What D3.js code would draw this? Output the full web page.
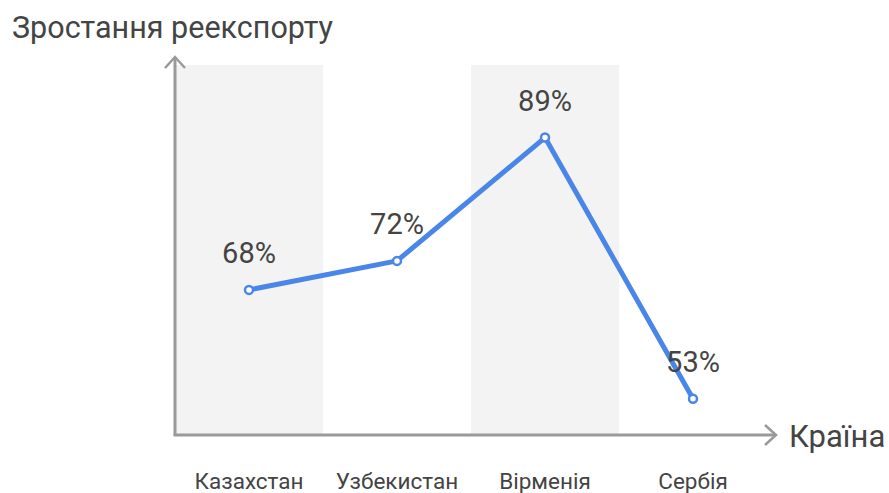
<!DOCTYPE html>
<html>
<head>
  <meta charset="utf-8">
  <title>Зростання реекспорту</title>
  <script src="https://d3js.org/d3.v7.min.js"></script>
  <style>
    body { margin: 0; background: #fff; }
    text { font-family: Roboto, "Noto Sans", sans-serif; }
  </style>
</head>
<body>
  <svg width="889" height="493"></svg>
  <script>
    // data
    var countries = ["Казахстан", "Узбекистан", "Вірменія", "Сербія"];
    var growth = [68, 72, 89, 53];
    var yTitle = "Зростання реекспорту";
    var xTitle = "Країна";

    var svg = d3.select("svg");
    var plotLeft = 175, plotRight = 767, plotTop = 65, plotBottom = 435;

    var x = d3.scaleBand()
      .domain(countries)
      .range([plotLeft, plotRight])
      .padding(0);

    var y = d3.scaleLinear()
      .domain([d3.min(growth) - 5, d3.max(growth) + 10])
      .range([plotBottom, plotTop]);

    var data = countries.map(function(c, i) { return { country: c, value: growth[i] }; });

    // alternating shaded columns
    svg.selectAll("rect.band")
      .data(countries.filter(function(d, i) { return i % 2 === 0; }))
      .enter()
      .append("rect")
      .attr("class", "band")
      .attr("x", function(d) { return x(d); })
      .attr("y", plotTop)
      .attr("width", x.bandwidth())
      .attr("height", plotBottom - plotTop)
      .attr("fill", "#f3f3f3");

    // axes with arrow heads
    var axisColor = "#9a9a9a";
    svg.append("path")
      .attr("d", "M" + plotLeft + "," + plotBottom + "V" + 57)
      .attr("stroke", axisColor).attr("stroke-width", 3).attr("fill", "none");
    svg.append("path")
      .attr("d", "M" + (plotLeft - 10) + "," + 68 + "L" + plotLeft + "," + 57 + "L" + (plotLeft + 10) + "," + 68)
      .attr("stroke", axisColor).attr("stroke-width", 2.5).attr("fill", "none");
    svg.append("path")
      .attr("d", "M" + (plotLeft - 1.5) + "," + plotBottom + "H" + 775)
      .attr("stroke", axisColor).attr("stroke-width", 3).attr("fill", "none");
    svg.append("path")
      .attr("d", "M" + 765 + "," + (plotBottom - 10) + "L" + 776 + "," + plotBottom + "L" + 765 + "," + (plotBottom + 10))
      .attr("stroke", axisColor).attr("stroke-width", 2.5).attr("fill", "none");

    // line
    var cx = function(d) { return x(d.country) + x.bandwidth() / 2; };
    var line = d3.line()
      .x(cx)
      .y(function(d) { return y(d.value); });

    svg.append("path")
      .datum(data)
      .attr("d", line)
      .attr("fill", "none")
      .attr("stroke", "#4a86e8")
      .attr("stroke-width", 5)
      .attr("stroke-linejoin", "round");

    svg.selectAll("circle.pt")
      .data(data)
      .enter()
      .append("circle")
      .attr("class", "pt")
      .attr("cx", cx)
      .attr("cy", function(d) { return y(d.value); })
      .attr("r", 4)
      .attr("fill", "#fff")
      .attr("stroke", "#4a86e8")
      .attr("stroke-width", 2.5);

    // value labels
    svg.selectAll("text.val")
      .data(data)
      .enter()
      .append("text")
      .attr("class", "val")
      .attr("x", cx)
      .attr("y", function(d) { return y(d.value) - 27; })
      .attr("text-anchor", "middle")
      .attr("fill", "#444")
      .style("font-size", "29px")
      .text(function(d) { return d.value + "%"; });

    // category labels
    svg.selectAll("text.cat")
      .data(countries)
      .enter()
      .append("text")
      .attr("class", "cat")
      .attr("x", function(d) { return x(d) + x.bandwidth() / 2; })
      .attr("y", 489)
      .attr("text-anchor", "middle")
      .attr("fill", "#444")
      .style("font-size", "22.5px")
      .text(function(d) { return d; });

    // titles
    svg.append("text")
      .attr("x", 12)
      .attr("y", 38)
      .attr("fill", "#444")
      .style("font-size", "30.5px")
      .text(yTitle);

    svg.append("text")
      .attr("x", 789)
      .attr("y", 447)
      .attr("fill", "#444")
      .style("font-size", "31px")
      .text(xTitle);
  </script>
</body>
</html>
